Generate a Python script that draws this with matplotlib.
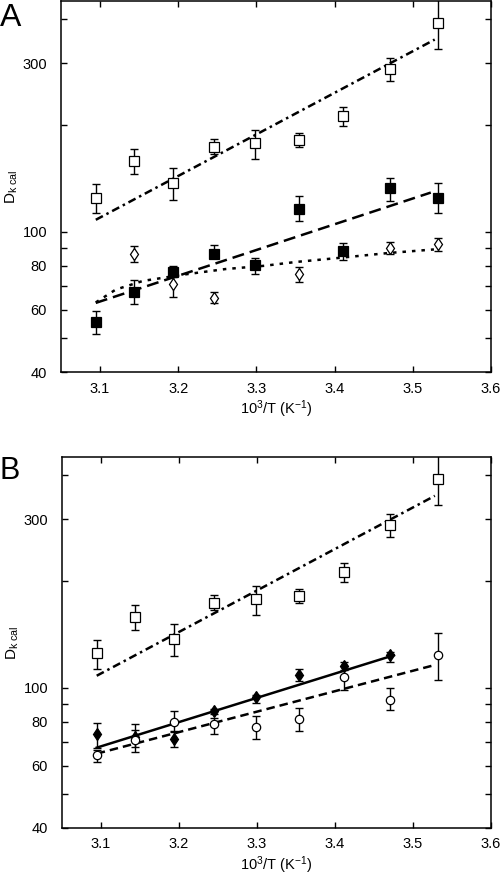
import matplotlib
matplotlib.use("Agg")
import matplotlib.pyplot as plt
from matplotlib.ticker import FixedLocator, NullLocator, NullFormatter

plt.rcParams['font.family'] = ['Liberation Sans', 'DejaVu Sans']
plt.rcParams['mathtext.fontset'] = 'custom'
plt.rcParams['mathtext.rm'] = 'Liberation Sans'
plt.rcParams['mathtext.it'] = 'Liberation Sans'
plt.rcParams['mathtext.default'] = 'regular'

# --- data ---
inv_T = [3.0945, 3.1432, 3.1934, 3.2452, 3.2987, 3.354, 3.4112, 3.4704, 3.5317]

# open squares (same in A and B)
sq_y = [124.9, 158.5, 137.5, 174, 178.3, 182, 213, 289.4, 390]
sq_lo = [113.2, 146, 123, 166, 160.5, 174, 199, 267, 329]
sq_hi = [136.3, 171.5, 151, 183, 194, 190, 226, 310, 460]
sq_fit_x = [3.0945, 3.528]
sq_fit_y = [108, 350]

# panel A filled squares
fsq_y = [55.5, 67.4, 76.8, 86.6, 80.4, 115.8, 88.1, 132.5, 124.9]
fsq_lo = [51.3, 62.5, 74.3, 84.3, 76, 107.3, 82.9, 122.2, 113.2]
fsq_hi = [59.5, 72.8, 79.7, 91.7, 84.3, 126.3, 92.7, 141.8, 137.2]
fsq_fit_x = [3.0945, 3.523]
fsq_fit_y = [62.8, 129]

# panel A open diamonds
dia_x = [3.1432, 3.1934, 3.2452, 3.354, 3.4704, 3.5317]
dia_y = [86.6, 70.9, 64.9, 76, 90, 92]
dia_lo = [82.2, 65.4, 62.7, 72.1, 86.2, 88.1]
dia_hi = [91, 76.8, 67.6, 79.6, 93.7, 96.2]
dia_fit_x = [3.0945, 3.12, 3.155, 3.21, 3.26, 3.31, 3.35, 3.40, 3.47, 3.527]
dia_fit_y = [63, 68.5, 72.5, 75.7, 78.3, 80, 82, 84, 87, 89]

# panel B filled diamonds
fdia_x = inv_T[:8]
fdia_y = [73.7, 72.5, 71.6, 85.6, 93.7, 108.4, 114.9, 123.5]
fdia_lo = [67.5, 67.8, 67.8, 84, 90.4, 104.4, 112, 118.2]
fdia_hi = [79.3, 78.7, 75.3, 87.1, 95.5, 112.5, 118.2, 126.2]
fdia_fit_x = [3.0945, 3.4756]
fdia_fit_y = [67.5, 123.5]

# panel B open circles
circ_y = [64.2, 71, 79.8, 78.7, 77.3, 81.6, 106.8, 92.4, 123.5]
circ_lo = [61.5, 65.6, 74.8, 73.7, 71.2, 75.3, 98.2, 86.2, 105]
circ_hi = [66.4, 75.6, 85.8, 82.2, 82.9, 87.7, 114.9, 100, 142.9]
circ_fit_x = [3.0945, 3.527]
circ_fit_y = [64.9, 115.7]

x_ticks = [3.1, 3.2, 3.3, 3.4, 3.5, 3.6]
y_major = [40, 60, 80, 100, 300]
y_minor = [50, 70, 90, 200, 400]


def errs(y, lo, hi):
    return [[a - b for a, b in zip(y, lo)], [b - a for a, b in zip(y, hi)]]


def points(ax, x, y, lo, hi, marker, face, ms):
    ax.errorbar(x, y, yerr=errs(y, lo, hi), fmt='none', ecolor='black',
                elinewidth=1.0, capsize=2.6, capthick=1.0, zorder=3)
    ax.plot(x, y, linestyle='none', marker=marker, ms=ms, mfc=face,
            mec='black', mew=0.9, zorder=4)


def style(ax):
    ax.set_yscale('log')
    ax.set_xlim(3.05, 3.6)
    ax.set_ylim(40, 450)
    ax.xaxis.set_major_locator(FixedLocator(x_ticks))
    ax.set_xticklabels([f"{v:.1f}" for v in x_ticks])
    ax.xaxis.set_minor_locator(NullLocator())
    ax.yaxis.set_major_locator(FixedLocator(y_major))
    ax.set_yticklabels([str(v) for v in y_major])
    ax.yaxis.set_minor_locator(FixedLocator(y_minor))
    ax.yaxis.set_minor_formatter(NullFormatter())
    ax.tick_params(which='both', direction='in', top=True, right=True,
                   length=4, width=1.0, labelsize=10.5)
    ax.tick_params(axis='y', which='major', pad=10)
    ax.tick_params(axis='x', which='major', pad=7)
    for s in ax.spines.values():
        s.set_linewidth(1.1)
    ax.set_xlabel('10$^{3}$/T (K$^{-1}$)', fontsize=10.5, labelpad=2)
    ax.set_ylabel('D$_{k\\ cal}$', fontsize=11, labelpad=2)


fig = plt.figure(figsize=(5.0, 8.76), dpi=100)
axA = fig.add_axes([0.122, 0.5753, 0.86, 0.4235])
axB = fig.add_axes([0.124, 0.0551, 0.858, 0.4228])

lw = 1.8
dashdot = (0, (3.2, 1.6, 1.0, 1.6))

# panel A
axA.plot(sq_fit_x, sq_fit_y, color='black', lw=lw, linestyle=dashdot)
axA.plot(fsq_fit_x, fsq_fit_y, color='black', lw=lw, linestyle=(0, (4.8, 2.4)))
axA.plot(dia_fit_x, dia_fit_y, color='black', lw=lw, linestyle=(0, (1.4, 2.4)))
points(axA, inv_T, sq_y, sq_lo, sq_hi, 's', 'white', 6.5)
points(axA, inv_T, fsq_y, fsq_lo, fsq_hi, 's', 'black', 6.5)
points(axA, dia_x, dia_y, dia_lo, dia_hi, 'd', 'white', 6)
style(axA)

# panel B
axB.plot(sq_fit_x, sq_fit_y, color='black', lw=lw, linestyle=dashdot)
axB.plot(fdia_fit_x, fdia_fit_y, color='black', lw=lw, linestyle='-')
axB.plot(circ_fit_x, circ_fit_y, color='black', lw=lw, linestyle=(0, (3.4, 2.0)))
points(axB, inv_T, sq_y, sq_lo, sq_hi, 's', 'white', 6.5)
points(axB, fdia_x, fdia_y, fdia_lo, fdia_hi, 'd', 'black', 6)
points(axB, inv_T, circ_y, circ_lo, circ_hi, 'o', 'white', 6)
style(axB)

fig.text(0.0, 0.997, 'A', fontsize=23, va='top', ha='left')
fig.text(0.0, 0.479, 'B', fontsize=22, va='top', ha='left')

fig.savefig('out.png', dpi=100)
